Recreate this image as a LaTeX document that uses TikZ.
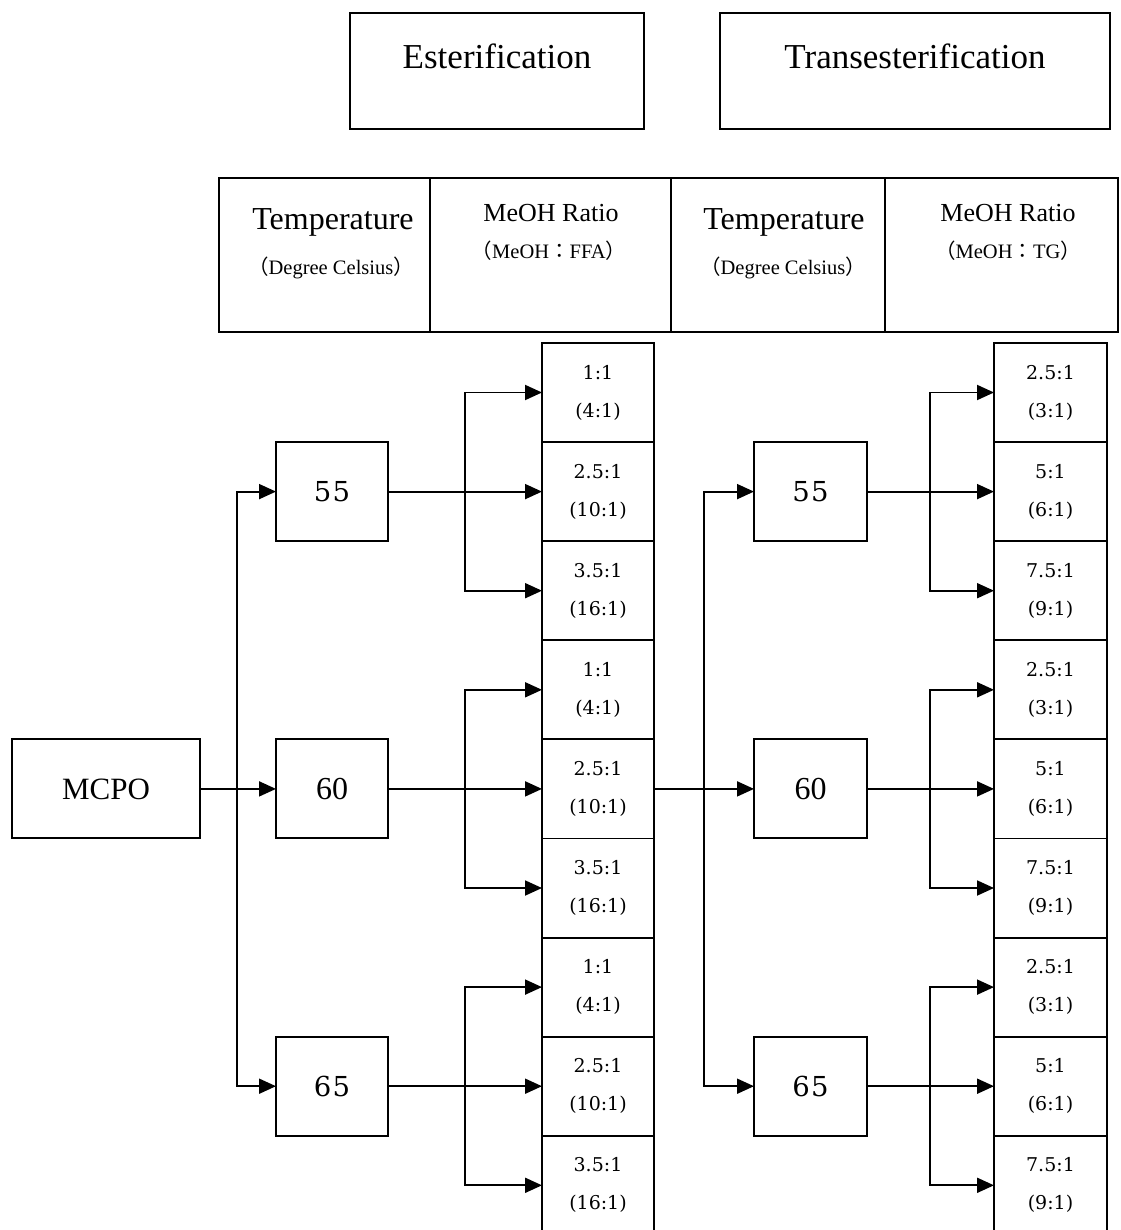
\documentclass[tikz,border=0pt]{standalone}
\usepackage{fontspec}
\newfontfamily\tms{Liberation Serif}
\newfontfamily\dvs{DejaVu Serif}
\newfontfamily\cjk{Noto Sans CJK JP}
\usetikzlibrary{arrows.meta}
\begin{document}
\begin{tikzpicture}[x=1pt,y=-1pt,
  every node/.style={inner sep=0pt,outer sep=0pt},
  frame/.style={draw,line width=1.9pt},
  stagebox/.style={frame,minimum width=112pt,minimum height=99pt},
  cellbox/.style={frame,minimum width=112pt,minimum height=99.1pt,align=center,
     font=\dvs\fontsize{19}{38}\selectfont},
  headtxt/.style={anchor=base,font=\tms\fontsize{35}{35}\selectfont},
  bigtxt/.style={anchor=base,font=\tms\fontsize{32}{32}\selectfont},
  midtxt/.style={anchor=base,font=\tms\fontsize{26}{26}\selectfont},
  subtxt/.style={anchor=base,font=\tms\fontsize{20.5}{20.5}\selectfont},
  numtxt/.style={font=\dvs\fontsize{27.5}{27.5}\selectfont},
  arr/.style={line width=1.9pt,-{Triangle[length=17pt,width=15pt]}},
  ln/.style={line width=1.9pt}]
\useasboundingbox (0,0) rectangle (1120,1230);

% top titles
\node[frame,minimum width=294pt,minimum height=116pt] (est) at (497,71) {};
\node[headtxt] (estt) at (497,69) {Esterification};
\node[frame,minimum width=390pt,minimum height=116pt] (tra) at (915,71) {};
\node[headtxt] (trat) at (915,69) {Transesterification};

% header row
\node[frame,minimum width=211pt,minimum height=154pt] (hA) at (324.5,255) {};
\node[frame,minimum width=241pt,minimum height=154pt] (hB) at (550.5,255) {};
\node[frame,minimum width=214pt,minimum height=154pt] (hC) at (778,255) {};
\node[frame,minimum width=233pt,minimum height=154pt] (hD) at (1001.5,255) {};
\node[bigtxt] (hAt) at (333,230) {Temperature};
\node[subtxt] (hAs) at (331,275) {{\cjk （}Degree Celsius{\cjk ）}};
\node[midtxt] (hBt) at (551,222) {MeOH Ratio};
\node[subtxt] (hBs) at (549,259) {{\cjk （}MeOH{\cjk ：}FFA{\cjk ）}};
\node[bigtxt] (hCt) at (784,230) {Temperature};
\node[subtxt] (hCs) at (783,275) {{\cjk （}Degree Celsius{\cjk ）}};
\node[midtxt] (hDt) at (1008,222) {MeOH Ratio};
\node[subtxt] (hDs) at (1008,259) {{\cjk （}MeOH{\cjk ：}TG{\cjk ）}};

% ratio cells, esterification
\node[cellbox] (A1) at (598,392.5) {1:1\\(4:1)};
\node[cellbox] (A2) at (598,491.6) {2.5:1\\(10:1)};
\node[cellbox] (A3) at (598,590.7) {3.5:1\\(16:1)};
\node[cellbox] (A4) at (598,689.8) {1:1\\(4:1)};
\node[cellbox] (A5) at (598,788.9) {2.5:1\\(10:1)};
\node[cellbox] (A6) at (598,888.0) {3.5:1\\(16:1)};
\node[cellbox] (A7) at (598,987.1) {1:1\\(4:1)};
\node[cellbox] (A8) at (598,1086.2) {2.5:1\\(10:1)};
\node[cellbox] (A9) at (598,1185.3) {3.5:1\\(16:1)};

% ratio cells, transesterification
\node[cellbox,minimum width=113pt] (B1) at (1050.5,392.5) {2.5:1\\(3:1)};
\node[cellbox,minimum width=113pt] (B2) at (1050.5,491.6) {5:1\\(6:1)};
\node[cellbox,minimum width=113pt] (B3) at (1050.5,590.7) {7.5:1\\(9:1)};
\node[cellbox,minimum width=113pt] (B4) at (1050.5,689.8) {2.5:1\\(3:1)};
\node[cellbox,minimum width=113pt] (B5) at (1050.5,788.9) {5:1\\(6:1)};
\node[cellbox,minimum width=113pt] (B6) at (1050.5,888.0) {7.5:1\\(9:1)};
\node[cellbox,minimum width=113pt] (B7) at (1050.5,987.1) {2.5:1\\(3:1)};
\node[cellbox,minimum width=113pt] (B8) at (1050.5,1086.2) {5:1\\(6:1)};
\node[cellbox,minimum width=113pt] (B9) at (1050.5,1185.3) {7.5:1\\(9:1)};

% MCPO and temperature boxes
\node[frame,minimum width=188pt,minimum height=99pt,font=\tms\fontsize{31}{31}\selectfont] (mcpo) at (106,788.9) {MCPO};
\node[stagebox,numtxt] (t55a) at (332,491.6) {5\kern1.5pt5};
\node[stagebox,font=\tms\fontsize{32}{32}\selectfont] (t60a) at (332,788.9) {60};
\node[stagebox,numtxt] (t65a) at (332,1086.2) {6\kern1.5pt5};
\node[stagebox,minimum width=113pt,numtxt] (t55b) at (810.5,491.6) {5\kern1.5pt5};
\node[stagebox,minimum width=113pt,font=\tms\fontsize{32}{32}\selectfont] (t60b) at (810.5,788.9) {60};
\node[stagebox,minimum width=113pt,numtxt] (t65b) at (810.5,1086.2) {6\kern1.5pt5};

% junctions
\coordinate (j1) at (237,788.9);
\coordinate (j2) at (704,788.9);
\coordinate (k55a) at (465,491.6);
\coordinate (k60a) at (465,788.9);
\coordinate (k65a) at (465,1086.2);
\coordinate (k55b) at (930,491.6);
\coordinate (k60b) at (930,788.9);
\coordinate (k65b) at (930,1086.2);

% stage 1 connectors
\draw[arr] (mcpo) -- (t60a);
\draw[arr] (j1) |- (t55a);
\draw[arr] (j1) |- (t65a);
\draw[arr] (t55a) -- (A2);
\draw[arr] (k55a) |- (A1);
\draw[arr] (k55a) |- (A3);
\draw[arr] (t60a) -- (A5);
\draw[arr] (k60a) |- (A4);
\draw[arr] (k60a) |- (A6);
\draw[arr] (t65a) -- (A8);
\draw[arr] (k65a) |- (A7);
\draw[arr] (k65a) |- (A9);

% stage 2 connectors
\draw[arr] (A5) -- (t60b);
\draw[arr] (j2) |- (t55b);
\draw[arr] (j2) |- (t65b);
\draw[arr] (t55b) -- (B2);
\draw[arr] (k55b) |- (B1);
\draw[arr] (k55b) |- (B3);
\draw[arr] (t60b) -- (B5);
\draw[arr] (k60b) |- (B4);
\draw[arr] (k60b) |- (B6);
\draw[arr] (t65b) -- (B8);
\draw[arr] (k65b) |- (B7);
\draw[arr] (k65b) |- (B9);
\end{tikzpicture}
\end{document}
